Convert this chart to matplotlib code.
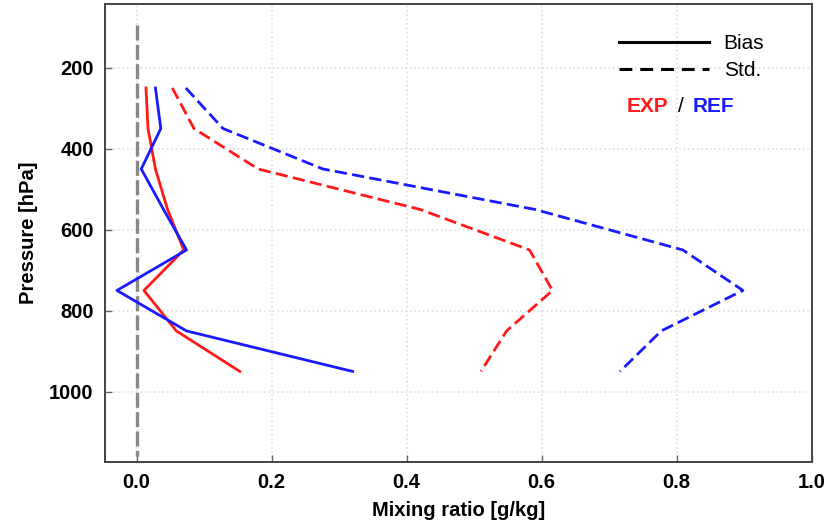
import matplotlib
matplotlib.use("Agg")
import matplotlib.pyplot as plt
from matplotlib.lines import Line2D

# ---- data ----
pressure = [250, 350, 450, 550, 650, 750, 850, 950]
exp_bias = [0.014, 0.017, 0.028, 0.046, 0.070, 0.011, 0.059, 0.153]
ref_bias = [0.028, 0.036, 0.007, 0.040, 0.074, -0.029, 0.074, 0.320]
exp_std = [0.053, 0.085, 0.180, 0.420, 0.582, 0.616, 0.548, 0.510]
ref_std = [0.073, 0.128, 0.276, 0.590, 0.809, 0.898, 0.777, 0.716]
zero_line_p = [95, 1160]
zero_line_x = [0.0, 0.0]
xticks = [0.0, 0.2, 0.4, 0.6, 0.8, 1.0]
yticks = [200, 400, 600, 800, 1000]

plt.rcParams['font.family'] = ['Liberation Sans', 'DejaVu Sans']

fig = plt.figure(figsize=(8.25, 5.21), dpi=100)
ax = fig.add_axes([0.127, 0.113, 0.857, 0.879])

dash = (0, (4.4, 1.9))
lw = 2.0
ax.plot(zero_line_x, zero_line_p, color='#888888', lw=2.4, ls=(0, (4.5, 1.3)), zorder=2)
ax.plot(exp_bias, pressure, color='#ff1a1a', lw=lw, zorder=3)
ax.plot(ref_bias, pressure, color='#1a1aff', lw=lw, zorder=3)
ax.plot(exp_std, pressure, color='#ff1a1a', lw=lw, ls=dash, zorder=3)
ax.plot(ref_std, pressure, color='#1a1aff', lw=lw, ls=dash, zorder=3)

ax.set_xlim(-0.047, 1.0)
ax.set_ylim(1174, 43)
ax.set_xticks(xticks)
ax.set_yticks(yticks)
ax.set_xticklabels([f"{v:.1f}" for v in xticks])
ax.set_yticklabels([str(v) for v in yticks])
ax.grid(True, color='#dedede', lw=1.2, ls=':')
ax.set_axisbelow(True)

ax.tick_params(direction='in', length=5, width=1.0, color='#666666',
               labelsize=14.5, pad=8)
for lab in ax.get_xticklabels() + ax.get_yticklabels():
    lab.set_fontweight('bold')
for s in ax.spines.values():
    s.set_color('#444444')
    s.set_linewidth(1.4)

ax.set_xlabel('Mixing ratio [g/kg]', fontsize=14.5, fontweight='bold', labelpad=6)
ax.set_ylabel('Pressure [hPa]', fontsize=14.5, fontweight='bold', labelpad=8)

handles = [Line2D([], [], color='black', lw=2.2),
           Line2D([], [], color='black', lw=2.2, ls=(0, (4.2, 2.6)))]
leg = ax.legend(handles, ['Bias', 'Std.'], loc='upper left', frameon=False,
                fontsize=15, handlelength=4.3, handletextpad=0.7,
                labelspacing=0.4, borderpad=0, borderaxespad=0,
                bbox_to_anchor=(0.728, 0.935))

ty = 0.777
ax.text(0.738, ty, 'EXP', color='#ff1a1a', fontsize=15, fontweight='bold',
        transform=ax.transAxes, ha='left', va='center')
ax.text(0.815, ty, '/', color='#000000', fontsize=15,
        transform=ax.transAxes, ha='center', va='center')
ax.text(0.831, ty, 'REF', color='#1a1aff', fontsize=15, fontweight='bold',
        transform=ax.transAxes, ha='left', va='center')

fig.savefig('out.png', dpi=100)
